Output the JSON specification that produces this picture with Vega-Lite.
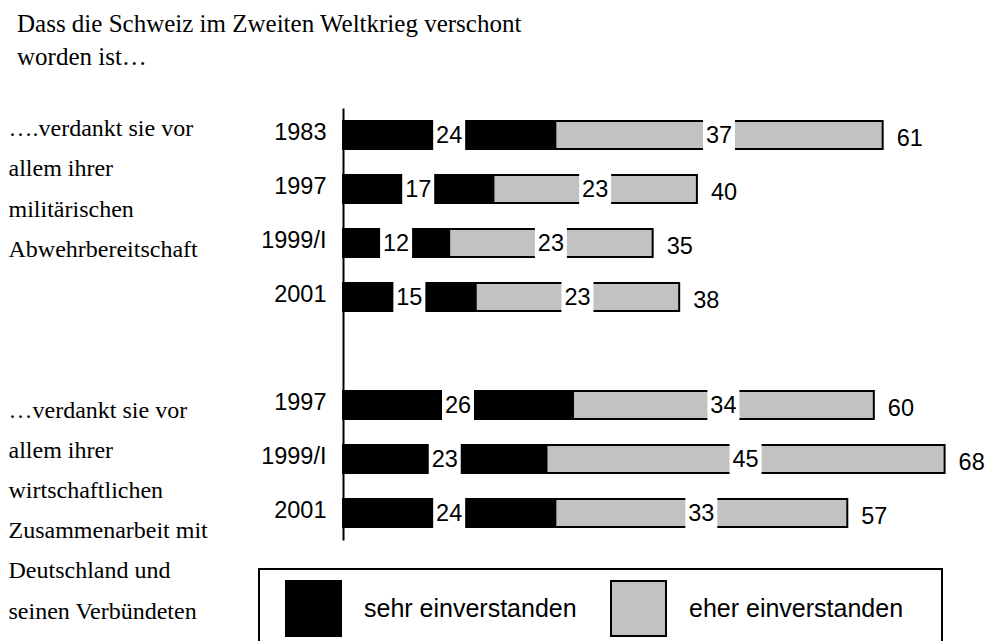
{
  "$schema": "https://vega.github.io/schema/vega-lite/v6.json",
  "padding": {"left": 8, "top": 12, "right": 0, "bottom": 0},
  "bounds": "flush",
  "spacing": 334,
  "title": {
    "text": ["Dass die Schweiz im Zweiten Weltkrieg verschont", "worden ist…"],
    "anchor": "start",
    "frame": "group",
    "font": "Liberation Serif",
    "fontSize": 25,
    "fontWeight": "normal",
    "lineHeight": 33,
    "color": "black",
    "offset": 38,
    "dx": 9
  },
  "config": {"font": "Liberation Sans", "view": {"stroke": null}},
  "datasets": {
    "bars": [
      {"key": "1983|1", "cat": "sehr einverstanden", "value": 24},
      {"key": "1983|1", "cat": "eher einverstanden", "value": 37},
      {"key": "1997|1", "cat": "sehr einverstanden", "value": 17},
      {"key": "1997|1", "cat": "eher einverstanden", "value": 23},
      {"key": "1999/I|1", "cat": "sehr einverstanden", "value": 12},
      {"key": "1999/I|1", "cat": "eher einverstanden", "value": 23},
      {"key": "2001|1", "cat": "sehr einverstanden", "value": 15},
      {"key": "2001|1", "cat": "eher einverstanden", "value": 23},
      {"key": "1997|2", "cat": "sehr einverstanden", "value": 26},
      {"key": "1997|2", "cat": "eher einverstanden", "value": 34},
      {"key": "1999/I|2", "cat": "sehr einverstanden", "value": 23},
      {"key": "1999/I|2", "cat": "eher einverstanden", "value": 45},
      {"key": "2001|2", "cat": "sehr einverstanden", "value": 24},
      {"key": "2001|2", "cat": "eher einverstanden", "value": 33}
    ],
    "lines": [
      {"line": "A1", "text": "….verdankt sie vor"},
      {"line": "A2", "text": "allem ihrer"},
      {"line": "A3", "text": "militärischen"},
      {"line": "A4", "text": "Abwehrbereitschaft"},
      {"line": "B1", "text": "…verdankt sie vor"},
      {"line": "B2", "text": "allem ihrer"},
      {"line": "B3", "text": "wirtschaftlichen"},
      {"line": "B4", "text": "Zusammenarbeit mit"},
      {"line": "B5", "text": "Deutschland und"},
      {"line": "B6", "text": "seinen Verbündeten"}
    ]
  },
  "hconcat": [
    {
      "width": 1,
      "height": 522.6,
      "data": {"name": "lines"},
      "mark": {"type": "text", "align": "left", "baseline": "alphabetic", "dy": 8, "font": "Liberation Serif", "fontSize": 24, "color": "black"},
      "encoding": {
        "y": {"field": "line", "type": "nominal", "scale": {"domain": ["A1", "A2", "A3", "A4", "-", "--", "---", "B1", "B2", "B3", "B4", "B5", "B6"], "paddingInner": 0, "paddingOuter": 0}, "axis": null},
        "text": {"field": "text", "type": "nominal"}
      }
    },
    {
      "width": 637,
      "height": 432,
      "data": {"name": "bars"},
      "encoding": {
        "y": {
          "field": "key", "type": "nominal",
          "scale": {"domain": ["1983|1", "1997|1", "1999/I|1", "2001|1", "|gap", "1997|2", "1999/I|2", "2001|2"], "paddingInner": 0, "paddingOuter": 0},
          "axis": {"title": null, "labelFontSize": 23.5, "labelColor": "black", "labelPadding": 17, "ticks": false, "domainColor": "black", "domainWidth": 2, "labelFont": "Liberation Sans", "labelExpr": "split(datum.value, '|')[0]", "labelBaseline": "middle", "labelAngle": 0, "labelOffset": -2}
        }
      },
      "layer": [
        {
          "mark": {"type": "bar", "size": 28, "stroke": "black", "strokeWidth": 2},
          "encoding": {
            "x": {"field": "value", "type": "quantitative", "stack": "zero", "scale": {"domain": [0, 72], "nice": false}, "axis": null},
            "color": {
              "field": "cat", "type": "nominal",
              "scale": {"domain": ["sehr einverstanden", "eher einverstanden"], "range": ["black", "#c2c2c2"]},
              "legend": {
                "title": " ", "titleOrient": "right", "titlePadding": 28,
                "orient": "none", "legendX": 251, "legendY": 461,
                "direction": "horizontal",
                "symbolType": "square", "symbolSize": 3025, "symbolStrokeColor": "black", "symbolStrokeWidth": 2, "symbolOpacity": 1,
                "labelFontSize": 25, "labelFont": "Liberation Sans", "labelColor": "black", "labelOffset": 22, "labelLimit": 500,
                "columnPadding": 18, "padding": 11, "strokeColor": "black", "symbolOffset": 15,
                "encode": {"legend": {"update": {"strokeWidth": {"value": 2}}}}
              }
            },
            "order": {"field": "cat", "sort": "descending"}
          }
        },
        {
          "mark": {"type": "tick", "color": "white", "opacity": 1, "thickness": 32, "size": 34},
          "encoding": {
            "x": {"field": "value", "type": "quantitative", "stack": "zero", "bandPosition": 0.5, "scale": {"domain": [0, 72], "nice": false}},
            "detail": {"field": "cat"},
            "order": {"field": "cat", "sort": "descending"}
          }
        },
        {
          "mark": {"type": "text", "fontSize": 23.5, "dy": 1, "color": "black", "baseline": "middle", "align": "center"},
          "encoding": {
            "x": {"field": "value", "type": "quantitative", "stack": "zero", "bandPosition": 0.5, "scale": {"domain": [0, 72], "nice": false}},
            "detail": {"field": "cat"},
            "order": {"field": "cat", "sort": "descending"},
            "text": {"field": "value", "type": "quantitative"}
          }
        },
        {
          "mark": {"type": "text", "align": "left", "baseline": "middle", "dx": 14, "dy": 4, "fontSize": 23.5, "color": "black"},
          "encoding": {
            "x": {"aggregate": "sum", "field": "value", "type": "quantitative", "scale": {"domain": [0, 72], "nice": false}},
            "text": {"aggregate": "sum", "field": "value", "type": "quantitative"}
          }
        }
      ]
    }
  ]
}
